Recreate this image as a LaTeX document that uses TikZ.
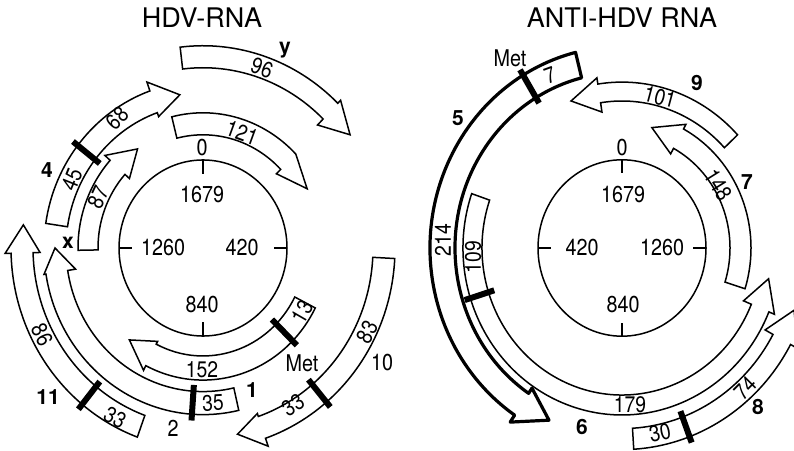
\documentclass[tikz,border=0pt]{standalone}
\usepackage{fontspec}
\setmainfont{TeX Gyre Heros}
\newfontfamily\condfont[FakeStretch=0.86]{TeX Gyre Heros}
\tikzset{
  band/.style={draw, line width=1.5pt, fill=white, line join=miter},
  thickband/.style={draw, line width=3.2pt, fill=white, line join=round},
  bar/.style={line width=6pt},
  thin/.style={line width=1.5pt},
  num/.style={font=\condfont\fontsize{22.5}{22.5}\selectfont, inner sep=0pt},
  cnum/.style={font=\condfont\fontsize{23}{23}\selectfont, inner sep=0pt},
  lab/.style={font=\fontsize{21}{21}\selectfont\bfseries, inner sep=0pt},
  ttl/.style={font=\fontsize{27}{27}\selectfont, inner sep=0pt},
}
% #2 tail angle, #3 head base angle, #4 tip angle, #5 inner r, #6 outer r, #7 outer barb, #8 inner barb
\newcommand\arrband[8][band]{%
  \draw[#1] (#2:#6) arc[start angle=#2,end angle=#3,radius=#6] -- (#3:{#6+#7}) -- (#4:{(#5+#6)/2}) -- (#3:{#5-#8}) -- (#3:#5) arc[start angle=#3,end angle=#2,radius=#5] -- cycle;}
\newcommand\rbar[3]{\draw[bar] (#1:{#2-6}) -- (#1:{#3+6});}
\begin{document}
\begin{tikzpicture}[x=1pt,y=1pt]
\useasboundingbox (0,0) rectangle (794,450);
\clip (0,0) rectangle (794,450);
% ---------------- left: HDV-RNA ----------------
\begin{scope}[shift={(203,202)}, yscale=1.048]
  \draw[thin] (0,0) circle[radius=84];
  \draw[thin] (90:84) -- (90:71);
  \draw[thin] (180:84) -- (180:71);
  \draw[thin] (0:84) -- (0:71);
  \draw[thin] (270:84) -- (270:71);
  \arrband{96.8}{45.7}{36.3}{172}{193}{4}{8}
  \arrband{104}{44}{28.5}{108}{129}{0}{6}
  \arrband{171.5}{109.5}{99}{137}{159}{9}{4}
  \arrband{181}{138}{124.7}{105}{125}{7}{6}
  \arrband{-27}{-117}{-130}{103}{126}{5}{3}
  \arrband{283}{189}{180}{137}{159}{2}{8}
  \arrband{250}{181.5}{173}{170}{192}{6}{7}
  \arrband{-3}{-71}{-79}{170}{192}{8}{3}
  \rbar{142}{137}{159}
  \rbar{-44.7}{103}{126}
  \rbar{-50}{170}{192}
  \rbar{266}{137}{159}
  \rbar{231}{170}{192}
\end{scope}
\node[ttl] (t1) at (202,432) {HDV-RNA};
\node[lab] (ly) at (285,400) {y};
\node[num,rotate=-20] (l96) at (262,382) {96};
\node[num,rotate=-20] (l121) at (242,317) {121};
\node[cnum] (l0) at (202,302) {0};
\node[cnum] (l1679) at (202,255) {1679};
\node[num,rotate=45] (l68) at (117,332) {68};
\node[num,rotate=68] (l45) at (72,270) {45};
\node[num,rotate=65] (l87) at (98,253) {87};
\node[lab] (l4) at (47,280) {4};
\node[lab] (lx) at (68,207) {x};
\node[cnum] (l1260) at (163,202) {1260};
\node[cnum] (l420) at (242,202) {420};
\node[cnum] (l840) at (202,145) {840};
\node[num,rotate=60] (l13) at (302,138) {13};
\node[num] (l152) at (202,80) {152};
\node[lab] (l1) at (252,60) {1};
\node[num,rotate=3] (l35) at (213,47) {35};
\node[cnum] (l2) at (173,22) {2};
\node[lab] (l11) at (48,53) {11};
\node[num,rotate=-28] (l33a) at (115,32) {33};
\node[num,rotate=-63] (l86) at (42,115) {86};
\node[cnum] (lmet) at (302,87) {Met};
\node[cnum] (l10) at (382,87) {10};
\node[num,rotate=62] (l83) at (367,118) {83};
\node[num,rotate=33] (l33b) at (293,45) {33};
% ---------------- right: ANTI-HDV RNA ----------------
\begin{scope}[shift={(622,202)}, yscale=1.05]
  \draw[thin] (0,0) circle[radius=84];
  \draw[thin] (90:84) -- (90:71);
  \draw[thin] (180:84) -- (180:71);
  \draw[thin] (0:84) -- (0:71);
  \draw[thin] (270:84) -- (270:71);
  \arrband[thickband]{104}{236}{246}{167}{192}{8}{6}
  \arrband{161}{337.5}{348.7}{140}{159}{6}{8.5}
  \arrband{273.5}{331.4}{341}{172}{192}{8}{9}
  \arrband{-17.5}{61.5}{75.4}{108}{129}{5}{6}
  \arrband{43}{98.8}{110}{140}{158}{6}{9}
  \rbar{121}{167}{192}
  \rbar{197.5}{140}{159}
  \rbar{290.6}{172}{192}
\end{scope}
\node[ttl] (t2) at (622,432) {ANTI-HDV RNA};
\node[cnum] (rmet) at (510,392) {Met};
\node[num,rotate=20] (r7a) at (550,375) {7};
\node[lab] (r5) at (458,332) {5};
\node[num,rotate=90] (r214) at (443,210) {214};
\node[num,rotate=90] (r109) at (473,193) {109};
\node[cnum] (r0) at (622,302) {0};
\node[cnum] (r1679) at (623,255) {1679};
\node[cnum] (r420) at (582,202) {420};
\node[cnum] (r1260) at (662,202) {1260};
\node[cnum] (r840) at (623,145) {840};
\node[num] (r179) at (630,45) {179};
\node[lab] (r6) at (582,23) {6};
\node[num,rotate=12] (r30) at (660,17) {30};
\node[num,rotate=45] (r74) at (745,62) {74};
\node[lab] (r8) at (758,43) {8};
\node[num,rotate=-58] (r148) at (718,265) {148};
\node[lab] (r7) at (747,268) {7};
\node[num,rotate=-15] (r101) at (660,353) {101};
\node[lab] (r9) at (697,367) {9};
\end{tikzpicture}
\end{document}
